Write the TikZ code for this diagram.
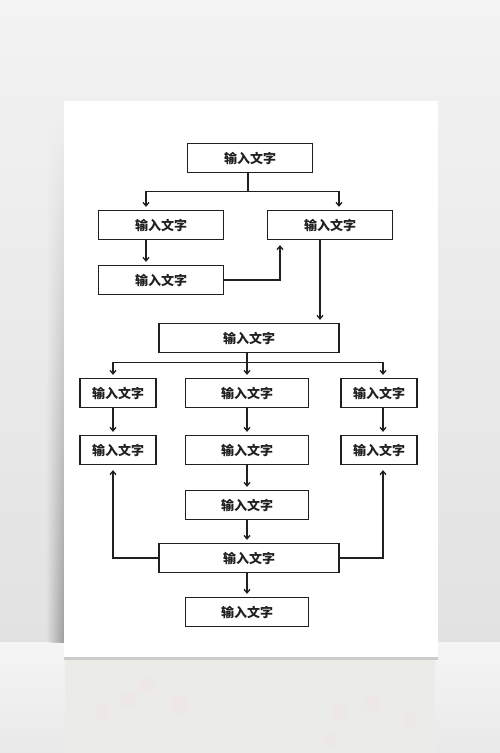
\documentclass[tikz,border=0pt]{standalone}
\usepackage{fontspec}
\newfontfamily\cjk{Noto Sans CJK SC}
\usetikzlibrary{arrows.meta,fadings}
\definecolor{inkgray}{HTML}{202020}
\definecolor{wallhi}{HTML}{F3F3F3}
\definecolor{walllo}{HTML}{E2E2E2}
\definecolor{floorhi}{HTML}{F5F5F5}
\definecolor{floorlo}{HTML}{E9E9E9}
\definecolor{mirror}{HTML}{EBEBE8}
\definecolor{blush}{HTML}{EDE7E8}
\tikzfading[name=shadowfade,left color=transparent!100,right color=transparent!0]

\begin{document}
\begin{tikzpicture}[x=1pt,y=-1pt,
  box/.style={draw=inkgray,line width=1.3pt,fill=white,inner sep=0pt,minimum height=29pt,
    font=\cjk\bfseries\fontsize{13}{13}\selectfont,text=inkgray},
  midbox/.style={box,minimum width=125pt},
  widebox/.style={box,minimum width=180pt},
  colbox/.style={box,minimum width=123pt},
  sidebox/.style={box,minimum width=76pt},
  wire/.style={line width=1.3pt,draw=inkgray},
  arrow/.style={wire,-{Straight Barb[length=3.5pt,width=6pt]},shorten >=3pt},
  uparrow/.style={arrow,shorten >=5pt}]

% --- backdrop ----------------------------------------------------------
\useasboundingbox (0,0) rectangle (500,753);
\shade[top color=wallhi,bottom color=walllo] (0,0) rectangle (500,642);
\shade[top color=floorhi,bottom color=floorlo] (0,642) rectangle (500,753);
\fill[mirror] (65,659) rectangle (435,753);
\foreach \bx/\by/\br in {128/700/9,147/685/8,180/705/10,103/712/8,340/712/9,373/703/8,410/720/8,330/740/7}
  \fill[blush] (\bx,\by) circle (\br);
\shade[top color=black!6,bottom color=black!38,path fading=shadowfade] (46,113) rectangle (64,642);
\fill[black!20] (64,657) rectangle (438,659.5);
\fill[white] (64,101) rectangle (438,657);

% --- upper part --------------------------------------------------------
\node[midbox] (top) at (250,158) {输入文字};
\node[midbox] (L1) at (161,225) {输入文字};
\node[midbox] (R1) at (330,225) {输入文字};
\node[midbox] (L2) at (161,280) {输入文字};

\draw[wire] ([xshift=-2pt]top.south) -- ++(0,18) coordinate (t1);
\draw[arrow] (t1) -| ([xshift=-15pt]L1.north);
\draw[arrow] (t1) -| ([xshift=9pt]R1.north);
\draw[arrow] ([xshift=-15pt]L1.south) -- ([xshift=-15pt]L2.north);
\draw[uparrow] (L2.east) -| ([xshift=-50pt]R1.south);

% --- middle ------------------------------------------------------------
\node[widebox] (Mid) at (249,338) {输入文字};
\coordinate (r1d) at ([xshift=-10pt]R1.south);
\draw[arrow] (r1d) -- (r1d |- Mid.north);

\node[sidebox] (A1) at (118,393) {输入文字};
\node[colbox]  (B1) at (247,393) {输入文字};
\node[sidebox] (C1) at (379,393) {输入文字};
\node[sidebox] (A2) at (118,450) {输入文字};
\node[colbox]  (B2) at (247,450) {输入文字};
\node[sidebox] (C2) at (379,450) {输入文字};
\node[colbox]  (B3) at (247,505) {输入文字};

\draw[wire] (B1.north |- Mid.south) -- ++(0,9) coordinate (m1);
\draw[arrow] (m1) -- (B1.north);
\draw[arrow] (m1) -| ([xshift=-5pt]A1.north);
\draw[arrow] (m1) -| ([xshift=4pt]C1.north);
\draw[arrow] ([xshift=-5pt]A1.south) -- ([xshift=-5pt]A2.north);
\draw[arrow] (B1.south) -- (B2.north);
\draw[arrow] ([xshift=4pt]C1.south) -- ([xshift=4pt]C2.north);
\draw[arrow] (B2.south) -- (B3.north);

% --- lower part --------------------------------------------------------
\node[widebox] (D) at (249,558) {输入文字};
\node[colbox]  (E) at (247,612) {输入文字};

\draw[arrow] (B3.south) -- (B3.south |- D.north);
\draw[arrow] (E.north |- D.south) -- (E.north);
\draw[uparrow] (D.west) -| ([xshift=-5pt]A2.south);
\draw[uparrow] (D.east) -| ([xshift=4pt]C2.south);
\end{tikzpicture}
\end{document}
